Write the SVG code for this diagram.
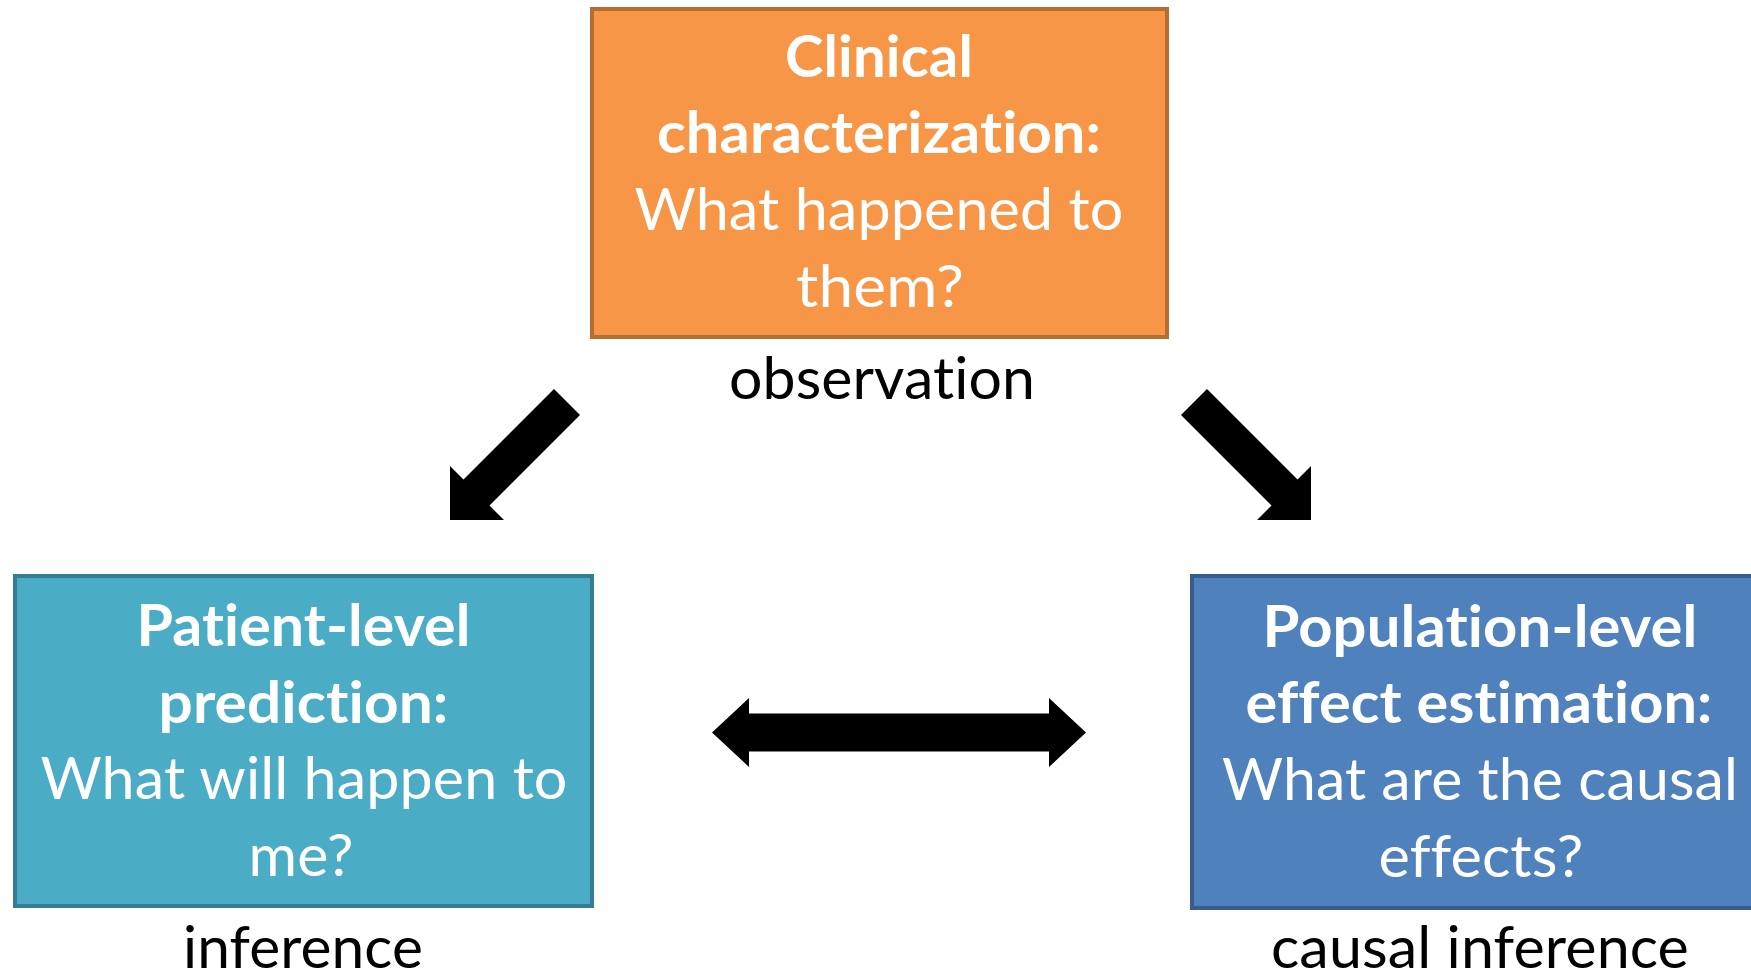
<svg xmlns="http://www.w3.org/2000/svg" width="1751" height="980" viewBox="0 0 1751 980">
<style>
.t{font-family:Lato,"Carlito","Liberation Sans",sans-serif;font-size:58px;text-anchor:middle;fill:#fff;letter-spacing:0.1px;font-variant-ligatures:none;font-feature-settings:"liga" 0,"clig" 0,"dlig" 0,"calt" 0}
.b{font-weight:bold}
.l{font-family:Lato,"Carlito","Liberation Sans",sans-serif;font-size:58px;text-anchor:middle;fill:#000;letter-spacing:0.1px;font-variant-ligatures:none;font-feature-settings:"liga" 0,"clig" 0,"dlig" 0,"calt" 0}
.arrow{fill:#000}
</style>
<rect width="1751" height="980" fill="#fff"/>
<g id="clinical">
<rect x="592" y="9" width="575" height="328" fill="#F79646" stroke="#B66D31" stroke-width="4"/>
<text class="t b" x="879" y="77" textLength="188" lengthAdjust="spacingAndGlyphs">Clinical</text>
<text class="t b" x="879" y="153" textLength="444" lengthAdjust="spacingAndGlyphs">characterization:</text>
<text class="t" x="879" y="230" textLength="489" lengthAdjust="spacingAndGlyphs">What happened to</text>
<text class="t" x="880" y="307" textLength="168" lengthAdjust="spacingAndGlyphs">them?</text>
<text class="l" x="882" y="399" textLength="306" lengthAdjust="spacingAndGlyphs">observation</text>
</g>
<g id="patient">
<rect x="15" y="576" width="577" height="330" fill="#4BACC6" stroke="#357D91" stroke-width="4"/>
<text class="t b" x="303.5" y="646" textLength="334" lengthAdjust="spacingAndGlyphs">Patient-level</text>
<text class="t b" x="303.5" y="723" textLength="290" lengthAdjust="spacingAndGlyphs">prediction:</text>
<text class="t" x="304" y="799" textLength="527" lengthAdjust="spacingAndGlyphs">What will happen to</text>
<text class="t" x="301" y="876" textLength="105" lengthAdjust="spacingAndGlyphs">me?</text>
<text class="l" x="303" y="968" textLength="240" lengthAdjust="spacingAndGlyphs">inference</text>
</g>
<g id="population">
<rect x="1192" y="576" width="577" height="332" fill="#4F81BD" stroke="#385D8A" stroke-width="4"/>
<text class="t b" x="1480" y="647" textLength="435" lengthAdjust="spacingAndGlyphs">Population-level</text>
<text class="t b" x="1479" y="723" textLength="467" lengthAdjust="spacingAndGlyphs">effect estimation:</text>
<text class="t" x="1480" y="800" textLength="516" lengthAdjust="spacingAndGlyphs">What are the causal</text>
<text class="t" x="1481" y="877" textLength="205" lengthAdjust="spacingAndGlyphs">effects?</text>
<text class="l" x="1480" y="968" textLength="418" lengthAdjust="spacingAndGlyphs">causal inference</text>
</g>
<g id="connectors">
<polygon class="arrow" points="554,389 580,415 489.5,505.5 504,520 450,520 450,466 463.5,479.5"/>
<polygon class="arrow" points="1207,389 1181,415 1271.5,505.5 1257,520 1311,520 1311,466 1297.5,479.5"/>
<polygon class="arrow" points="712,732.5 749,698 749,713.5 1049,713.5 1049,698 1086,732.5 1049,767 1049,751.5 749,751.5 749,767"/>
</g>
</svg>
